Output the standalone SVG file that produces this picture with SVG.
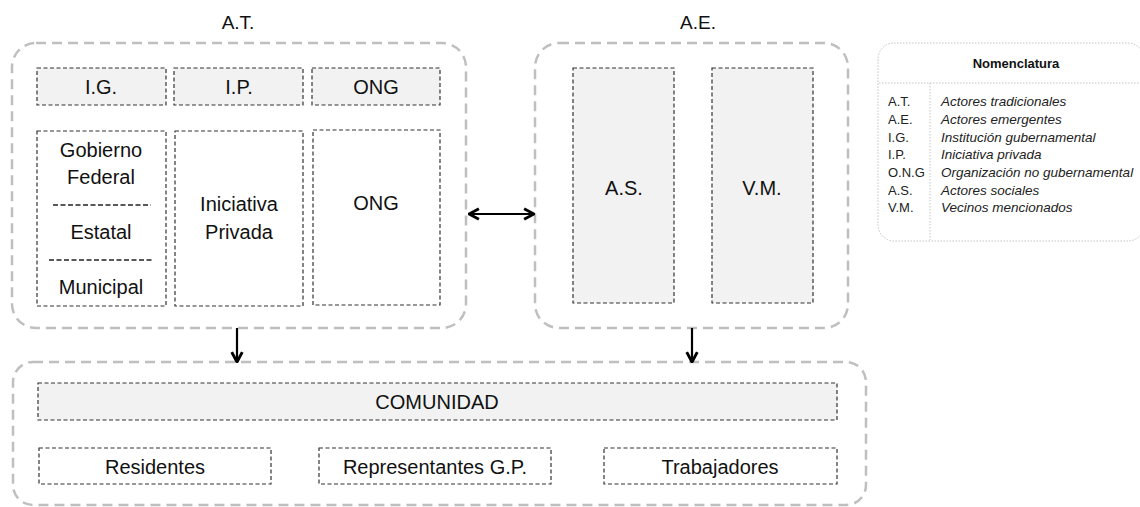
<svg xmlns="http://www.w3.org/2000/svg" width="1140" height="507" viewBox="0 0 1140 507">
<defs>
<marker id="head" viewBox="0 0 10 10" refX="9" refY="5" markerWidth="6" markerHeight="6" orient="auto-start-reverse" markerUnits="strokeWidth">
<path d="M1.5,1 L9,5 L1.5,9" fill="none" stroke="#000" stroke-width="2.2" stroke-linejoin="miter"/>
</marker>
</defs>
<style>
text{font-family:"Liberation Sans",Arial,sans-serif;fill:#111;}
.big{font-size:20px;text-anchor:middle;}
.title{font-size:19px;text-anchor:middle;}
.outer{fill:none;stroke:#BFBFBF;stroke-width:2.5;stroke-dasharray:10 6;}
.inner{fill:#fff;stroke:#333;stroke-width:1.2;stroke-dasharray:4 2.5;}
.shade{fill:#F2F2F2;stroke:#333;stroke-width:1.2;stroke-dasharray:4 2.5;}
.sep{stroke:#222;stroke-width:1.5;stroke-dasharray:5 2.5;}
.leg{fill:#fff;stroke:#C4C4C4;stroke-width:1;stroke-dasharray:1.5 1.5;}
.legl{stroke:#C4C4C4;stroke-width:1;stroke-dasharray:1.5 1.5;}
.lk{font-size:13px;fill:#222;}
.lv{font-size:13.5px;font-style:italic;fill:#222;}
.conn{stroke:#000;stroke-width:2.2;fill:none;}
</style>

<g id="AT">
<text class="title" x="238" y="29">A.T.</text>
<rect class="outer" x="12" y="43" width="454" height="285" rx="24"/>
<g id="IG">
<rect class="shade" x="37" y="68" width="129" height="37"/>
<text class="big" x="101" y="94">I.G.</text>
</g>
<g id="IP">
<rect class="shade" x="174" y="68" width="129" height="37"/>
<text class="big" x="239" y="94">I.P.</text>
</g>
<g id="ONGh">
<rect class="shade" x="312" y="68" width="128" height="37"/>
<text class="big" x="376" y="94">ONG</text>
</g>
<g id="Gobierno">
<rect class="inner" x="37" y="131" width="129" height="175"/>
<text class="big" x="101" y="157">Gobierno</text>
<text class="big" x="101" y="184">Federal</text>
<line class="sep" x1="53" y1="205" x2="151" y2="205"/>
<text class="big" x="101" y="239">Estatal</text>
<line class="sep" x1="49" y1="260" x2="154" y2="260"/>
<text class="big" x="101" y="294">Municipal</text>
</g>
<g id="Iniciativa">
<rect class="inner" x="175" y="131" width="128" height="175"/>
<text class="big" x="239" y="211">Iniciativa</text>
<text class="big" x="239" y="239">Privada</text>
</g>
<g id="ONG">
<rect class="inner" x="313" y="130" width="127" height="175"/>
<text class="big" x="376" y="210">ONG</text>
</g>
</g>

<g id="AE">
<text class="title" x="698" y="29">A.E.</text>
<rect class="outer" x="535" y="43" width="313" height="285" rx="24"/>
<g id="AS">
<rect class="shade" x="573" y="68" width="101" height="235"/>
<text class="big" x="624" y="195">A.S.</text>
</g>
<g id="VM">
<rect class="shade" x="712" y="68" width="101" height="235"/>
<text class="big" x="762" y="195">V.M.</text>
</g>
</g>

<g id="COM">
<rect class="outer" x="13" y="362" width="853" height="143" rx="20"/>
<g id="Comunidad">
<rect class="shade" x="38" y="383" width="799" height="37"/>
<text class="big" x="437" y="409">COMUNIDAD</text>
</g>
<g id="Residentes">
<rect class="inner" x="39" y="448" width="232" height="36"/>
<text class="big" x="155" y="474">Residentes</text>
</g>
<g id="Representantes">
<rect class="inner" x="319" y="448" width="232" height="36"/>
<text class="big" x="435" y="474">Representantes G.P.</text>
</g>
<g id="Trabajadores">
<rect class="inner" x="604" y="448" width="233" height="36"/>
<text class="big" x="720" y="474">Trabajadores</text>
</g>
</g>

<g id="legend">
<rect class="leg" x="878" y="43" width="266" height="198" rx="16"/>
<line class="legl" x1="879" y1="83" x2="1140" y2="83"/>
<line class="legl" x1="930" y1="83" x2="930" y2="240"/>
<text x="1016" y="68" style="font-size:13px;font-weight:bold;text-anchor:middle;fill:#111;">Nomenclatura</text>
<text class="lk" x="888" y="106">A.T.</text><text class="lv" x="941" y="106">Actores tradicionales</text>
<text class="lk" x="888" y="124">A.E.</text><text class="lv" x="941" y="124">Actores emergentes</text>
<text class="lk" x="888" y="142">I.G.</text><text class="lv" x="941" y="142">Institución gubernamental</text>
<text class="lk" x="888" y="159">I.P.</text><text class="lv" x="941" y="159">Iniciativa privada</text>
<text class="lk" x="888" y="177">O.N.G</text><text class="lv" x="941" y="177">Organización no gubernamental</text>
<text class="lk" x="888" y="195">A.S.</text><text class="lv" x="941" y="195">Actores sociales</text>
<text class="lk" x="888" y="212">V.M.</text><text class="lv" x="941" y="212">Vecinos mencionados</text>
</g>

<g id="connectors">
<line class="conn" x1="469" y1="214" x2="534" y2="214" marker-start="url(#head)" marker-end="url(#head)"/>
<line class="conn" x1="237" y1="328" x2="237" y2="362" marker-end="url(#head)"/>
<line class="conn" x1="692" y1="328" x2="692" y2="362" marker-end="url(#head)"/>
</g>
</svg>
